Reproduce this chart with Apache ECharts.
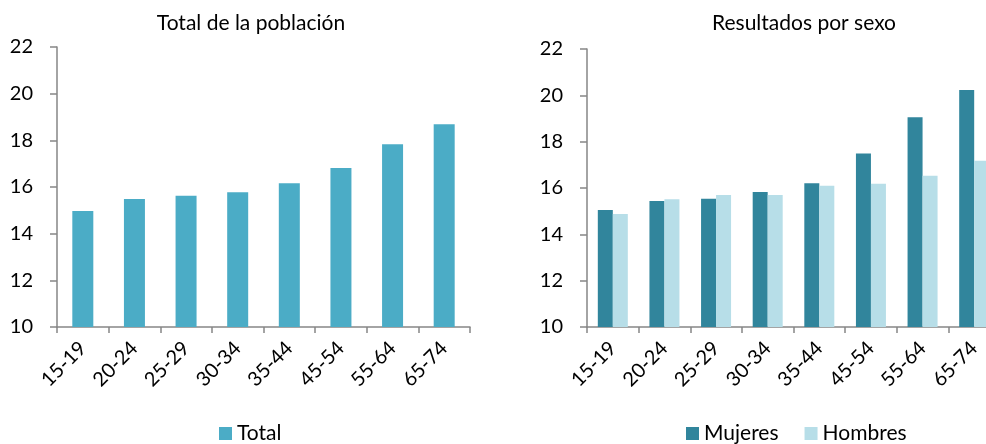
<!DOCTYPE html>
<html>
<head>
<meta charset="utf-8">
<script src="https://cdn.jsdelivr.net/npm/echarts@6/dist/echarts.min.js"></script>
<style>
  html, body { margin: 0; padding: 0; background: #fff; }
  #main { width: 986px; height: 444px; }
</style>
</head>
<body>
<div id="main"></div>
<script>
let ageGroups = ["15-19", "20-24", "25-29", "30-34", "35-44", "45-54", "55-64", "65-74"];
let totalValues = [14.97, 15.49, 15.63, 15.77, 16.16, 16.81, 17.83, 18.69];
let mujeresValues = [15.05, 15.44, 15.54, 15.83, 16.21, 17.49, 19.05, 20.23];
let hombresValues = [14.88, 15.51, 15.70, 15.70, 16.10, 16.18, 16.53, 17.18];
let yTicks = [10, 12, 14, 16, 18, 20, 22];

let dom = document.getElementById("main");
let myChart = echarts.init(dom, null, { renderer: "canvas" });

let font = "Lato";
let axisGray = "#868686";

function makeX(gridIndex) {
    return {
        type: "category",
        gridIndex: gridIndex,
        data: ageGroups,
        axisLine: { lineStyle: { color: axisGray, width: 1.5 } },
        axisTick: { show: true, length: 6, lineStyle: { color: axisGray, width: 1.5 } },
        axisLabel: {
            rotate: 45,
            margin: 18,
            color: "#000",
            fontFamily: font,
            fontSize: 20,
        },
    };
}

function makeY(gridIndex) {
    return {
        type: "value",
        gridIndex: gridIndex,
        min: yTicks[0],
        max: yTicks[yTicks.length - 1],
        interval: 2,
        splitLine: { show: false },
        axisLine: { show: true, lineStyle: { color: axisGray, width: 1.5 } },
        axisTick: { show: true, length: 7, lineStyle: { color: axisGray, width: 1.5 } },
        axisLabel: {
            margin: 24,
            color: "#000",
            fontFamily: font,
            fontSize: 20,
        },
    };
}

let option = {
    animation: false,
    title: [{
        text: "Total de la población",
        left: 246,
        textAlign: "center",
        top: 8,
        textStyle: { fontFamily: font, fontSize: 21, fontWeight: "normal", color: "#000" },
    }, {
        text: "Resultados por sexo",
        left: 799,
        textAlign: "center",
        top: 8,
        textStyle: { fontFamily: font, fontSize: 21, fontWeight: "normal", color: "#000" },
    }],
    legend: [{
        data: ["Total"],
        left: 219,
        top: 423,
        padding: 0,
        itemWidth: 13,
        itemHeight: 13,
        icon: "rect",
        textStyle: { fontFamily: font, fontSize: 21, color: "#000" },
    }, {
        data: ["Mujeres", "Hombres"],
        left: 686,
        top: 423,
        padding: 0,
        itemWidth: 13,
        itemHeight: 13,
        itemGap: 26,
        icon: "rect",
        textStyle: { fontFamily: font, fontSize: 21, color: "#000" },
    }],
    grid: [
        { left: 57, top: 47, width: 413, height: 280, outerBoundsMode: "none" },
        { left: 587, top: 49, width: 413, height: 278, outerBoundsMode: "none" },
    ],
    xAxis: [makeX(0), makeX(1)],
    yAxis: [makeY(0), makeY(1)],
    series: [{
        name: "Total",
        type: "bar",
        xAxisIndex: 0,
        yAxisIndex: 0,
        data: totalValues,
        barWidth: 21,
        itemStyle: { color: "#4BACC6" },
    }, {
        name: "Mujeres",
        type: "bar",
        xAxisIndex: 1,
        yAxisIndex: 1,
        data: mujeresValues,
        barWidth: 15,
        barGap: "0%",
        itemStyle: { color: "#31859C" },
    }, {
        name: "Hombres",
        type: "bar",
        xAxisIndex: 1,
        yAxisIndex: 1,
        data: hombresValues,
        barWidth: 15,
        barGap: "0%",
        itemStyle: { color: "#B7DEE8" },
    }],
};

myChart.setOption(option);
window.addEventListener("resize", myChart.resize);
</script>
</body>
</html>
